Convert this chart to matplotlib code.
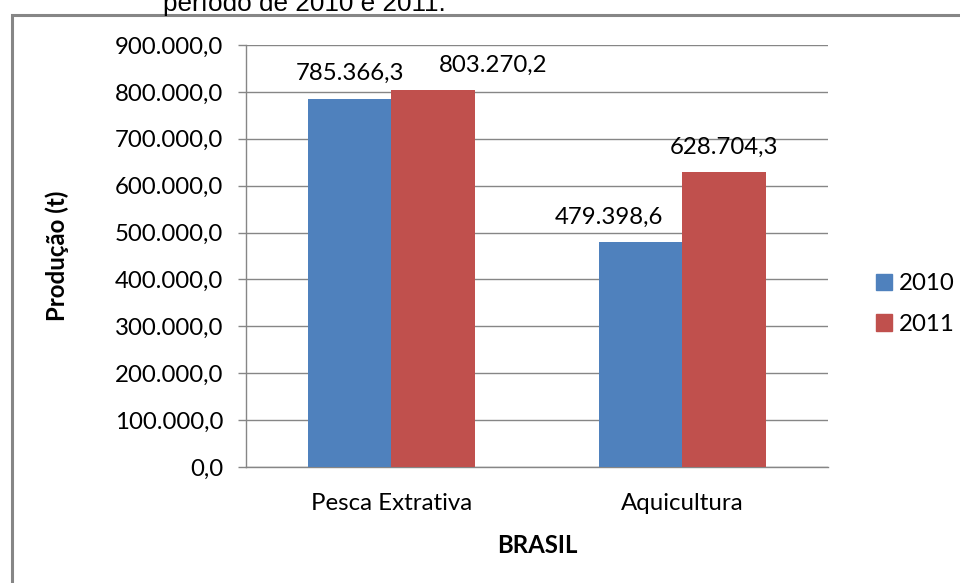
import matplotlib
matplotlib.use("Agg")
import matplotlib.pyplot as plt
from matplotlib.patches import Rectangle, Patch
from matplotlib.ticker import FuncFormatter, MultipleLocator
import numpy as np

categories = ["Pesca Extrativa", "Aquicultura"]
series_names = ["2010", "2011"]
values_2010 = [785366.3, 479398.6]
values_2011 = [803270.2, 628704.3]
colors = ["#4F81BD", "#C0504D"]

FONT = "Lato"
plt.rcParams["font.family"] = [FONT, "DejaVu Sans"]
GRAY = "#868686"
FS = 17.3


def br_format(v, decimals=1):
    s = f"{v:,.{decimals}f}"
    return s.replace(",", "X").replace(".", ",").replace("X", ".")


W, H = 960, 583
fig = plt.figure(figsize=(W / 100, H / 100), dpi=100)

# frame around the chart, partly outside the canvas
fig.patches.append(Rectangle((12 / W, -0.1), 1.2, 1 - 15 / H + 0.1,
                             transform=fig.transFigure, fill=False,
                             edgecolor=GRAY, linewidth=2.2, zorder=0))

# caption line above the frame (its upper part runs off the page)
fig.text(163 / W, 1 - 10.5 / H, "período de 2010 e 2011.",
         family="Liberation Sans", fontsize=18.8, color="black",
         ha="left", va="baseline")

ax = fig.add_axes([246 / W, 1 - 467 / H, (828 - 246) / W, (467 - 45) / H])

x = np.arange(len(categories))
bw = 0.287
b1 = ax.bar(x - bw / 2, values_2010, bw, color=colors[0], label=series_names[0], zorder=3)
b2 = ax.bar(x + bw / 2, values_2011, bw, color=colors[1], label=series_names[1], zorder=3)

ax.set_xlim(-0.5, 1.5)
ax.set_ylim(0, 900000)
ax.yaxis.set_major_locator(MultipleLocator(100000))
ax.yaxis.set_major_formatter(FuncFormatter(lambda v, p: br_format(v)))
ax.grid(axis="y", color=GRAY, linewidth=1.0, zorder=0)
ax.set_axisbelow(True)

for side in ["top", "right"]:
    ax.spines[side].set_visible(False)
for side in ["left", "bottom"]:
    ax.spines[side].set_color(GRAY)
    ax.spines[side].set_linewidth(1.0)

ax.tick_params(axis="y", length=5.5, width=1.0, color=GRAY, labelsize=FS, pad=11)
ax.tick_params(axis="x", length=0, labelsize=FS, pad=19)
ax.set_xticks(x)
ax.set_xticklabels(categories)

ax.set_ylabel("Produção (t)", fontsize=FS, fontweight="bold", labelpad=33)
ax.set_xlabel("BRASIL", fontsize=FS, fontweight="bold", labelpad=14)

# value labels; two are nudged sideways so neighbours do not collide
nudges = {(0, 1): 43, (1, 0): -23}
for si, bars in enumerate([b1, b2]):
    for ci, bar in enumerate(bars):
        h = bar.get_height()
        dx = nudges.get((ci, si), 0)
        ax.annotate(br_format(h), (bar.get_x() + bar.get_width() / 2, h),
                    xytext=(dx, 18), textcoords="offset points",
                    ha="center", va="center", fontsize=FS)

handles = [Patch(color=colors[0], label=series_names[0]),
           Patch(color=colors[1], label=series_names[1])]
fig.legend(handles=handles, loc="center left",
           bbox_to_anchor=(866 / W, 1 - 304 / H), frameon=False,
           fontsize=FS, handlelength=0.7, handleheight=0.7,
           handletextpad=0.25, labelspacing=0.8, borderaxespad=0)

fig.savefig("out.png", dpi=100)
